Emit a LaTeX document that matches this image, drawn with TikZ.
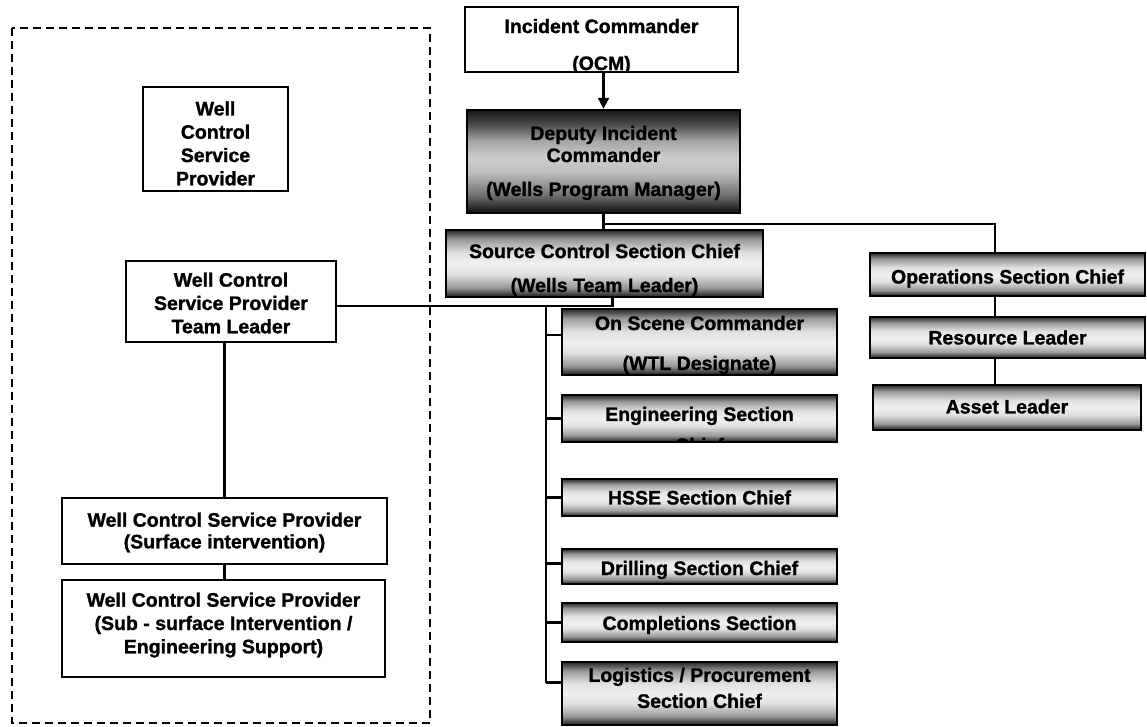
\documentclass[tikz,border=0pt]{standalone}
\usepackage{fontspec}
\setmainfont[BoldFeatures={FakeBold=1.2}]{Liberation Sans}
\usetikzlibrary{arrows.meta}

\newcommand\wordfont[1]{\fontsize{19.5}{#1}\selectfont\bfseries}

% dark bands at top and bottom, light middle
\pgfdeclareverticalshading{bevel}{100bp}{color(0bp)=(black!90); color(25bp)=(black!90); color(32bp)=(black!40); color(42bp)=(black!12); color(50bp)=(black!6); color(58bp)=(black!12); color(68bp)=(black!40); color(75bp)=(black!85); color(100bp)=(black!85)}
\pgfdeclareverticalshading{bevel dark}{100bp}{color(0bp)=(black!95); color(25bp)=(black!95); color(34bp)=(black!55); color(45bp)=(black!25); color(52bp)=(black!20); color(60bp)=(black!35); color(68bp)=(black!70); color(75bp)=(black!92); color(100bp)=(black!92)}

\tikzset{
  plainbox/.style={draw, line width=2.2pt, fill=white, inner sep=0pt},
  shadebox/.style={draw, line width=2.4pt, inner sep=0pt, shading=bevel},
  words/.style n args={4}{path picture={\node[align=center, inner sep=0pt, font=\wordfont{#3}] (#1) at ([yshift=#2pt]path picture bounding box.center) {#4};}},
  link/.style={line width=2.3pt},
}

\begin{document}
\begin{tikzpicture}[x=1pt, y=-1pt]
\useasboundingbox[fill=white] (0,0) rectangle (1147,727);

% service provider group
\draw[line width=2.4pt, dash pattern=on 8pt off 5pt] (12,28) rectangle (430,723);
\node[plainbox, minimum width=145pt, minimum height=104pt, words={wcsp-t}{-4.4}{23.3}{Well\\Control\\Service\\Provider}] (wcsp) at (215.5,139) {};
\node[plainbox, minimum width=210pt, minimum height=81pt, words={wctl-t}{-1.5}{23.3}{Well Control\\Service Provider\\Team Leader}] (wctl) at (231,301.5) {};
\node[plainbox, minimum width=325pt, minimum height=66pt, words={surf-t}{-1.5}{21.7}{Well Control Service Provider\\(Surface intervention)}] (surf) at (224.5,531) {};
\node[plainbox, minimum width=323pt, minimum height=97pt, words={sub-t}{3.5}{23.3}{Well Control Service Provider\\(Sub - surface Intervention /\\Engineering Support)}] (sub) at (223.5,628.5) {};

% command
\node[plainbox, minimum width=273pt, minimum height=65pt, words={ic-t}{-7}{37}{Incident Commander\\(OCM)}] (ic) at (601.5,39.5) {};
\node[shadebox, shading=bevel dark, minimum width=273pt, minimum height=103pt, words={dic-t}{-1.5}{22}{Deputy Incident\\Commander\\[12pt](Wells Program Manager)}] (dic) at (603.5,161.5) {};
\node[shadebox, minimum width=317pt, minimum height=67pt, words={scs-t}{-6.5}{34}{Source Control Section Chief\\(Wells Team Leader)}] (scs) at (604.5,263.5) {};

% source control sections
\node[shadebox, minimum width=275pt, minimum height=66pt, words={osc-t}{-3}{40}{On Scene Commander\\(WTL Designate)}] (osc) at (699.5,342) {};
\node[shadebox, minimum width=275pt, minimum height=47pt, words={eng-t}{-11}{31}{Engineering Section\\Chief}] (eng) at (699.5,418.5) {};
\node[shadebox, minimum width=275pt, minimum height=37pt, words={hsse-t}{0}{23}{HSSE Section Chief}] (hsse) at (699.5,497.5) {};
\node[shadebox, minimum width=275pt, minimum height=35pt, words={drill-t}{-3.5}{23}{Drilling Section Chief}] (drill) at (699.5,566.5) {};
\node[shadebox, minimum width=275pt, minimum height=39pt, words={comp-t}{-2.5}{23}{Completions Section}] (comp) at (699.5,622.5) {};
\node[shadebox, minimum width=275pt, minimum height=63pt, words={logi-t}{5.6}{26}{Logistics / Procurement\\Section Chief}] (logi) at (699.5,693.5) {};

% operations
\node[shadebox, minimum width=275pt, minimum height=43pt, words={ops-t}{-4}{23}{Operations Section Chief}] (ops) at (1007.5,274.5) {};
\node[shadebox, minimum width=275pt, minimum height=41pt, words={res-t}{0}{23}{Resource Leader}] (res) at (1007.5,337.5) {};
\node[shadebox, minimum width=268pt, minimum height=45pt, words={asset-t}{1}{23}{Asset Leader}] (asset) at (1007,407.5) {};

% links
\draw[link, -{Triangle[length=11pt,width=11pt]}] (dic.north |- ic.south) -- (dic.north);
\draw[link] (dic.south) -- (dic.south |- scs.north);
\coordinate (fork) at ([yshift=-10pt]dic.south);
\draw[link] (fork) -| ([xshift=-12.5pt]ops.north);
\draw[link] ([xshift=-12.5pt]ops.south) -- ([xshift=-12.5pt]ops.south |- res.north);
\draw[link] ([xshift=-12.5pt]res.south) -- ([xshift=-12.5pt]res.south |- asset.north);

\coordinate (tie) at ([xshift=8pt,yshift=-8pt]scs.south);
\draw[link] ([xshift=8pt]scs.south) -- (tie) -- (tie -| wctl.east);
\path (tie -| osc.west) ++(-15,0) coordinate (spine);
\draw[link] ([yshift=11pt]logi.west) -- ++(-15,0) coordinate (foot);
\draw[link] (spine) -- (foot);
\foreach \n/\dy in {osc/7, eng/0, hsse/0, drill/3, comp/0}
  \draw[link] ([yshift=\dy pt]\n.west) -- ++(-15,0);

\draw[link] (surf.north |- wctl.south) -- (surf.north);
\draw[link] (surf.south) -- (surf.south |- sub.north);
\end{tikzpicture}
\end{document}
